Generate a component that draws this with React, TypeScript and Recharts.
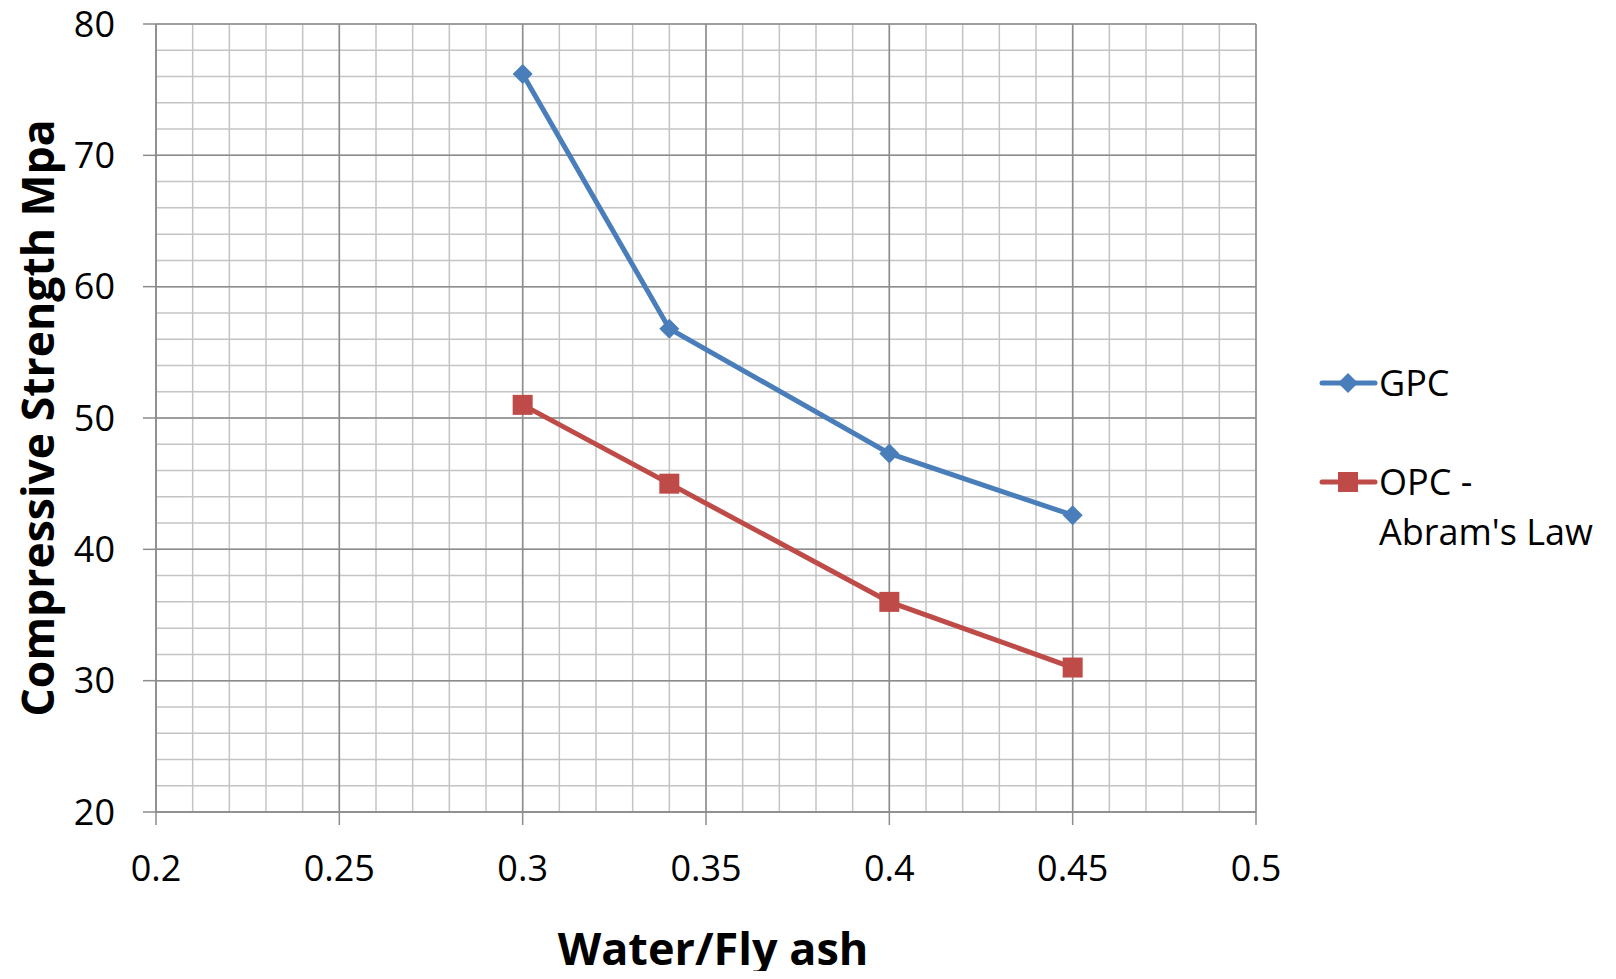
import React from 'react';
import { LineChart, Line, XAxis, YAxis, CartesianGrid, Legend } from 'recharts';

// tick labels
const xTicks = [0.2, 0.25, 0.3, 0.35, 0.4, 0.45, 0.5];
const yTicks = [20, 30, 40, 50, 60, 70, 80];

// minor gridlines (every 0.01 on x, every 2 on y)
const xMinor = Array.from({ length: 31 }, (_, i) => +(0.2 + i * 0.01).toFixed(2));
const yMinor = Array.from({ length: 31 }, (_, i) => 20 + i * 2);

// series
const ratio = [0.3, 0.34, 0.4, 0.45];
const gpc = [76.2, 56.8, 47.3, 42.6];
const opc = [51, 45, 36, 31];

const data = ratio.map((x, i) => ({ x, gpc: gpc[i], opc: opc[i] }));

const BLUE = '#4A7EBB';
const RED = '#BE4B48';
const FONT = "'Open Sans', sans-serif";

const Diamond = (props: any) => {
    const { cx, cy } = props;
    if (cx == null || cy == null) return <g key={props.key} />;
    const r = 10;
    return (
        <path
            key={props.key}
            d={`M${cx},${cy - r}L${cx + r},${cy}L${cx},${cy + r}L${cx - r},${cy}Z`}
            fill={BLUE}
        />
    );
};

const Square = (props: any) => {
    const { cx, cy } = props;
    if (cx == null || cy == null) return <g key={props.key} />;
    const s = 10;
    return <rect key={props.key} x={cx - s} y={cy - s} width={2 * s} height={2 * s} fill={RED} />;
};

const LegendIcon = ({ color, shape }: { color: string; shape: 'diamond' | 'square' }) => (
    <svg width={60} height={50} style={{ flex: '0 0 auto' }}>
        <line x1={3} y1={25} x2={56} y2={25} stroke={color} strokeWidth={5} strokeLinecap="round" />
        {shape === 'diamond' ? (
            <path d="M29,15L39,25L29,35L19,25Z" fill={color} />
        ) : (
            <rect x={19} y={15} width={20} height={20} fill={color} />
        )}
    </svg>
);

const renderLegend = () => (
    <div style={{ fontFamily: FONT, fontSize: 36, lineHeight: '50px', color: '#000', width: 290 }}>
        <div style={{ display: 'flex', alignItems: 'flex-start' }}>
            <LegendIcon color={BLUE} shape="diamond" />
            <div>GPC</div>
        </div>
        <div style={{ display: 'flex', alignItems: 'flex-start', marginTop: 49 }}>
            <LegendIcon color={RED} shape="square" />
            <div style={{ width: 228 }}>OPC - Abram's Law</div>
        </div>
    </div>
);

const YTitle = (props: any) => {
    const vb = props.viewBox;
    const x = vb.x + 36;
    const y = vb.y + vb.height / 2;
    return (
        <text
            x={x}
            y={y}
            transform={`rotate(-90, ${x}, ${y})`}
            textAnchor="middle"
            dominantBaseline="central"
            fontFamily={FONT}
            fontWeight="bold"
            fontSize={44.5}
            fill="#000"
        >
            Compressive Strength Mpa
        </text>
    );
};

const XTitle = (props: any) => {
    const vb = props.viewBox;
    return (
        <text
            x={vb.x + vb.width / 2 + 7}
            y={vb.y + 135}
            textAnchor="middle"
            dominantBaseline="central"
            fontFamily={FONT}
            fontWeight="bold"
            fontSize={45}
            fill="#000"
        >
            Water/Fly ash
        </text>
    );
};

const App: React.FC = () => {
    return (
        <div style={{ width: 1616, height: 979, margin: -8, background: '#fff' }}>
            <LineChart
                width={1616}
                height={979}
                data={data}
                margin={{ top: 24, right: 70, bottom: 17, left: 0 }}
                style={{ fontFamily: FONT }}
            >
                {/* minor grid */}
                <CartesianGrid
                    stroke="#C4C4C4"
                    strokeWidth={1.5}
                    verticalValues={xMinor}
                    horizontalValues={yMinor}
                />
                {/* major grid */}
                <CartesianGrid
                    stroke="#8C8C8C"
                    strokeWidth={1.5}
                    verticalValues={xTicks}
                    horizontalValues={yTicks}
                />

                <XAxis
                    type="number"
                    dataKey="x"
                    domain={[0.2, 0.5]}
                    ticks={xTicks}
                    height={150}
                    tickSize={13}
                    tickMargin={30}
                    axisLine={{ stroke: '#8C8C8C', strokeWidth: 1.5 }}
                    tickLine={{ stroke: '#8C8C8C', strokeWidth: 1.5 }}
                    tick={{ fill: '#000', fontSize: 36, fontFamily: FONT }}
                    label={<XTitle />}
                />
                <YAxis
                    type="number"
                    domain={[20, 80]}
                    ticks={yTicks}
                    width={156}
                    tickSize={13}
                    tickMargin={28}
                    axisLine={{ stroke: '#8C8C8C', strokeWidth: 1.5 }}
                    tickLine={{ stroke: '#8C8C8C', strokeWidth: 1.5 }}
                    tick={{ fill: '#000', fontSize: 36, fontFamily: FONT }}
                    label={<YTitle />}
                />

                <Legend
                    layout="vertical"
                    align="right"
                    verticalAlign="middle"
                    content={renderLegend}
                    wrapperStyle={{ position: 'absolute', left: 1319, top: 358, width: 290 }}
                />

                <Line
                    type="linear"
                    dataKey="gpc"
                    name="GPC"
                    stroke={BLUE}
                    strokeWidth={5}
                    dot={Diamond}
                    activeDot={false}
                    isAnimationActive={false}
                />
                <Line
                    type="linear"
                    dataKey="opc"
                    name="OPC - Abram's Law"
                    stroke={RED}
                    strokeWidth={5}
                    dot={Square}
                    activeDot={false}
                    isAnimationActive={false}
                />
            </LineChart>
        </div>
    );
};

export default App;
